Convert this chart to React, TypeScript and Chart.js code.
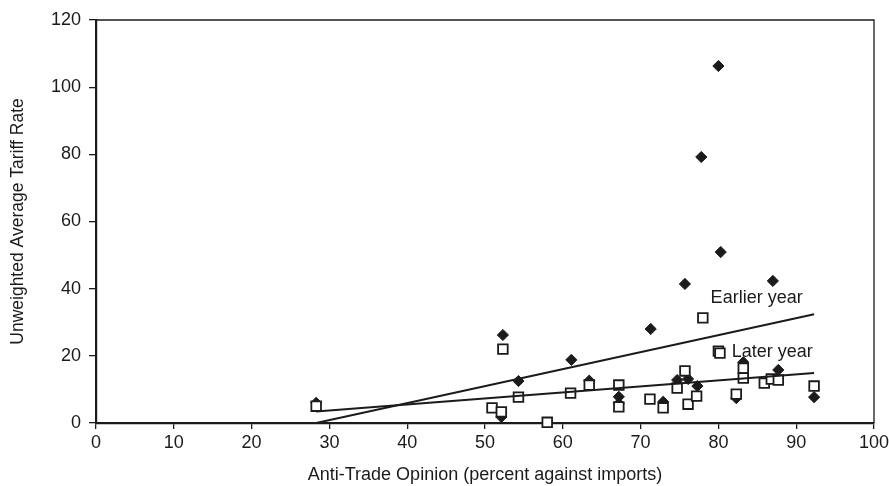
import React, { useEffect, useRef } from "react";
import { Chart, registerables } from "chart.js";

Chart.register(...registerables);

const earlierX = [28.3, 52.1, 52.3, 54.3, 61.1, 63.4, 67.2, 67.2, 71.3, 72.9, 74.7, 75.7, 76.1, 77.3, 77.8, 80.0, 80.3, 82.3, 83.2, 87.0, 87.7, 92.3];
const earlierY = [6.0, 1.8, 26.2, 12.5, 18.8, 12.6, 7.8, 5.8, 28.0, 6.3, 12.8, 41.4, 13.1, 11.0, 79.2, 106.3, 50.9, 7.4, 18.1, 42.3, 15.8, 7.7];

const laterX = [28.3, 50.9, 52.1, 52.3, 54.3, 58.0, 61.0, 63.4, 67.2, 67.2, 71.2, 72.9, 74.7, 75.7, 76.1, 77.2, 78.0, 80.0, 80.2, 82.3, 83.2, 83.2, 85.9, 86.8, 87.7, 92.3];
const laterY = [5.0, 4.5, 3.3, 22.0, 7.7, 0.2, 8.9, 11.3, 11.3, 4.8, 7.1, 4.5, 10.4, 15.5, 5.6, 8.0, 31.3, 21.4, 20.8, 8.6, 16.3, 13.4, 11.9, 13.1, 12.8, 11.0];

const fitX = [28.3, 92.3];
const earlierFitY = [0, 32.4];
const laterFitY = [3.4, 14.9];

const labelTexts = ["Earlier year", "Later year"];
const labelX = [79.0, 81.7];
const labelY = [35.7, 19.7];

const INK = "#1c1a1b";
const FONT = "'Liberation Sans', Arial, sans-serif";

const toPts = (xs: number[], ys: number[]) => xs.map((x, i) => ({ x, y: ys[i] }));

const boxPlugin = {
  id: "boxPlugin",
  afterDraw(chart: any) {
    const { ctx, chartArea: a, scales } = chart;
    ctx.save();
    ctx.strokeStyle = INK;
    ctx.lineWidth = 1.3;
    ctx.beginPath();
    ctx.moveTo(a.left, a.top);
    ctx.lineTo(a.right, a.top);
    ctx.lineTo(a.right, a.bottom);
    ctx.stroke();
    ctx.fillStyle = INK;
    ctx.font = `18px ${FONT}`;
    ctx.textAlign = "left";
    ctx.textBaseline = "alphabetic";
    labelTexts.forEach((t, i) => {
      ctx.fillText(t, scales.x.getPixelForValue(labelX[i]), scales.y.getPixelForValue(labelY[i]));
    });
    ctx.restore();
  },
};

export default function App() {
  const ref = useRef<HTMLCanvasElement>(null);
  useEffect(() => {
    if (!ref.current) return;
    const chart = new Chart(ref.current, {
      type: "scatter",
      data: {
        datasets: [
          {
            type: "line",
            label: "Earlier fit",
            data: toPts(fitX, earlierFitY),
            borderColor: INK,
            borderWidth: 2,
            pointRadius: 0,
            fill: false,
            order: 0,
          } as any,
          {
            type: "line",
            label: "Later fit",
            data: toPts(fitX, laterFitY),
            borderColor: INK,
            borderWidth: 2,
            pointRadius: 0,
            fill: false,
            order: 0,
          } as any,
          {
            label: "Later year",
            data: toPts(laterX, laterY),
            pointStyle: "rect",
            pointRadius: 6.8,
            pointBackgroundColor: "#ffffff",
            pointBorderColor: INK,
            pointBorderWidth: 1.8,
            showLine: false,
            clip: false,
            order: 1,
          } as any,
          {
            label: "Earlier year",
            data: toPts(earlierX, earlierY),
            pointStyle: "rectRot",
            pointRadius: 5.6,
            pointBackgroundColor: INK,
            pointBorderColor: INK,
            pointBorderWidth: 1,
            showLine: false,
            clip: false,
            order: 2,
          } as any,
        ],
      },
      options: {
        animation: false,
        responsive: false,
        maintainAspectRatio: false,
        layout: { padding: { top: 20, right: 15, left: 0, bottom: 0 } },
        plugins: { legend: { display: false }, tooltip: { enabled: false } },
        scales: {
          x: {
            type: "linear",
            min: 0,
            max: 100,
            ticks: { stepSize: 10, color: INK, font: { size: 18, family: FONT }, padding: 3 },
            grid: { drawOnChartArea: false, drawTicks: true, tickLength: 6, color: INK, lineWidth: 1.3 },
            border: { display: true, color: INK, width: 2.2 },
            title: {
              display: true,
              text: "Anti-Trade Opinion (percent against imports)",
              color: INK,
              font: { size: 18, family: FONT },
              padding: { top: 0, bottom: 0 },
            },
            afterFit: (s: any) => {
              s.height = 63;
              s.paddingLeft = 0;
              s.paddingRight = 0;
            },
          },
          y: {
            type: "linear",
            min: 0,
            max: 120,
            ticks: { stepSize: 20, color: INK, font: { size: 18, family: FONT }, padding: 8 },
            grid: { drawOnChartArea: false, drawTicks: true, tickLength: 7, color: INK, lineWidth: 1.3 },
            border: { display: true, color: INK, width: 2.2 },
            title: {
              display: true,
              text: "Unweighted Average Tariff Rate",
              color: INK,
              font: { size: 17.5, family: FONT },
              padding: { top: 8, bottom: 0 },
            },
            afterFit: (s: any) => {
              s.width = 96;
              s.paddingTop = 0;
              s.paddingBottom = 0;
            },
          },
        },
      },
      plugins: [boxPlugin],
    });
    return () => chart.destroy();
  }, []);
  return (
    <div style={{ position: "fixed", left: 0, top: 0, width: 889, height: 486, background: "#fff" }}>
      <canvas ref={ref} width={889} height={486} style={{ display: "block" }} />
    </div>
  );
}
